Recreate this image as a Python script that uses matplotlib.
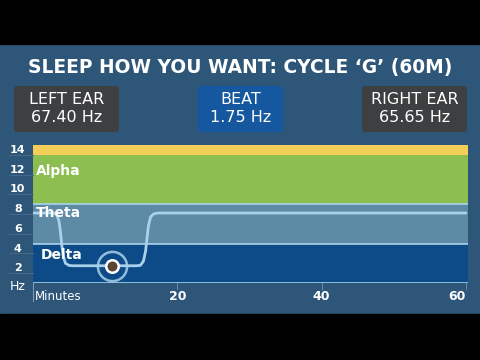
"""
binaural beat cycle chart
"""
import matplotlib
matplotlib.use("Agg")
import matplotlib.pyplot as plt
from matplotlib.patches import FancyBboxPatch, Rectangle
from matplotlib.transforms import blended_transform_factory

# bands (Hz)
band_names = ["Delta", "Theta", "Alpha", ""]
band_lo = [0, 4, 8, 13]
band_hi = [4, 8, 13, 14]
band_colors = ["#0c4b87", "#5d8ba6", "#8cbe50", "#f3cf58"]

# frequency curve over time
minutes = [0, 2.9, 3.3, 3.6, 3.8, 4.0, 4.2, 4.5, 5.0, 5.6,
           14.4, 14.9, 15.3, 15.6, 15.8, 16.0, 16.3, 16.7, 17.3, 60]
hz = [7.1, 7.1, 6.9, 6.3, 5.2, 3.8, 2.7, 2.0, 1.78, 1.75,
      1.75, 1.8, 2.2, 3.2, 4.5, 5.8, 6.7, 7.0, 7.1, 7.1]
now_min = 11
now_hz = 1.75

ytick_vals = [2, 4, 6, 8, 10, 12, 14]
xtick_vals = [20, 40, 60]

title = "SLEEP HOW YOU WANT: CYCLE \u2018G\u2019 (60M)"
boxes = [("LEFT EAR", "67.40 Hz"), ("BEAT", "1.75 Hz"), ("RIGHT EAR", "65.65 Hz")]

BG = "#2d5679"
LINE = "#a9d2ea"
WIDE = "DejaVu Sans"

fig = plt.figure(figsize=(4.8, 3.6), dpi=100)
fig.patch.set_facecolor(BG)

# black letterbox bars
fig.patches.append(Rectangle((0, 1 - 44 / 360), 1, 44 / 360, transform=fig.transFigure,
                             color="black", zorder=0))
fig.patches.append(Rectangle((0, 0), 1, 46 / 360, transform=fig.transFigure,
                             color="black", zorder=0))

fig.text(0.5, 1 - 68 / 360, title, ha="center", va="center", color="white",
         fontsize=13.4, fontweight="bold", family=WIDE)

# info boxes
box_x = [14, 198, 362]
box_w = [105, 85, 105]
box_c = ["#3d3f41", "#1558a0", "#3d3f41"]
for (top, bottom), x, w, c in zip(boxes, box_x, box_w, box_c):
    fig.patches.append(FancyBboxPatch((x / 480, 1 - 132 / 360), w / 480, 46 / 360,
                                      boxstyle="round,pad=0,rounding_size=0.008",
                                      transform=fig.transFigure, facecolor=c,
                                      edgecolor="none", zorder=1))
    cx = (x + w / 2) / 480
    fig.text(cx, 1 - 99 / 360, top, ha="center", va="center", color="white",
             fontsize=11.5, family=WIDE)
    fig.text(cx, 1 - 118 / 360, bottom, ha="center", va="center", color="white",
             fontsize=11.5, family=WIDE)

ax = fig.add_axes([33 / 480, 77 / 360, 435 / 480, 138 / 360])
ax.set_xlim(0, 60.3)
ax.set_ylim(0, 14)
ax.set_facecolor(BG)
for s in ax.spines.values():
    s.set_visible(False)
ax.set_xticks([])
ax.set_yticks([])

for name, lo, hi, c in zip(band_names, band_lo, band_hi, band_colors):
    ax.axhspan(lo, hi, color=c, lw=0, zorder=1)
for b in [0, 4, 8]:
    ax.axhline(b, color=LINE, lw=1.2, zorder=2)

ax.text(0.4, 11.4, "Alpha", color="white", fontsize=10, fontweight="bold",
        family=WIDE, va="center", zorder=5)
ax.text(0.4, 7.1, "Theta", color="white", fontsize=10, fontweight="bold",
        family=WIDE, va="center", zorder=5)
ax.text(1.1, 2.8, "Delta", color="white", fontsize=10, fontweight="bold",
        family=WIDE, va="center", zorder=5)

ax.plot(minutes, hz, color=LINE, lw=2.0, solid_capstyle="round",
        solid_joinstyle="round", zorder=3)
ax.plot([now_min], [now_hz], marker="o", ms=21, mfc="none", mec=LINE, mew=1.8,
        alpha=0.85, zorder=4)
ax.plot([now_min], [now_hz], marker="o", ms=9, mfc="#5a4536", mec="white", mew=1.8, zorder=4)

# y labels to the left of the plot
ytr = blended_transform_factory(ax.transAxes, ax.transData)
for v in ytick_vals:
    ax.text(-0.035, v - 0.5, str(v), transform=ytr, ha="center", va="center",
            color="white", fontsize=8, fontweight="bold", family=WIDE, clip_on=False)
    ax.plot([-0.055, 0], [v - 1, v - 1], transform=ytr, color="#47698a", lw=0.7,
            clip_on=False)
ax.text(-0.035, -0.35, "Hz", transform=ytr, ha="center", va="center", color="white",
        fontsize=9, family=WIDE, clip_on=False)

# x labels below the plot
xtr = blended_transform_factory(ax.transData, ax.transAxes)
ax.text(0.2, -0.1, "Minutes", transform=xtr, ha="left", va="center", color="white",
        fontsize=8.5, family=WIDE, clip_on=False)
ax.plot([0, 0], [0, -0.13], transform=xtr, color="#7d9bb5", lw=0.8, clip_on=False)
for v in xtick_vals:
    ax.plot([v, v], [0, -0.04], transform=xtr, color="#6a8aa6", lw=0.7, clip_on=False)
    ha = "right" if v == 60 else "center"
    ax.text(v, -0.1, str(v), transform=xtr, ha=ha, va="center", color="white",
            fontsize=9, fontweight="bold", family=WIDE, clip_on=False)

fig.savefig("out.png", dpi=100, facecolor=fig.get_facecolor())
